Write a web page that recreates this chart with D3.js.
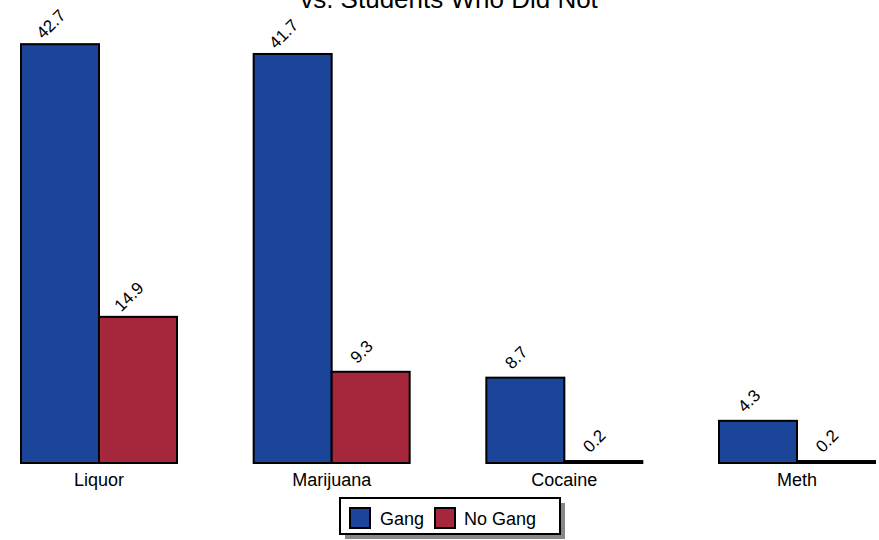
<!DOCTYPE html>
<html>
<head>
<meta charset="utf-8">
<script src="https://cdn.jsdelivr.net/npm/d3@7"></script>
<style>
  html, body { margin: 0; padding: 0; background: #fff; }
  svg { display: block; font-family: "Liberation Sans", Arial, sans-serif; }
</style>
</head>
<body>
<svg id="chart" width="879" height="540"></svg>
<script>
const categories = ["Liquor", "Marijuana", "Cocaine", "Meth"];
const seriesNames = ["Gang", "No Gang"];
const gangValues = [42.7, 41.7, 8.7, 4.3];
const noGangValues = [14.9, 9.3, 0.2, 0.2];
const seriesColors = ["#1A4599", "#A6273B"];
const titleLines = ["vs. Students Who Did Not"];

const svg = d3.select("#chart");

const x0 = d3.scaleBand().domain(categories).range([21, 875]).paddingInner(0.3295).paddingOuter(0);
const x1 = d3.scaleBand().domain(seriesNames).range([0, x0.bandwidth()]).padding(0);
const y = d3.scaleLinear().domain([0, 45]).range([463, 21.6]);
const color = d3.scaleOrdinal().domain(seriesNames).range(seriesColors);

const rows = categories.map((c, i) => ({ cat: c, vals: [
  { key: "Gang", value: gangValues[i] },
  { key: "No Gang", value: noGangValues[i] }
]}));

// Title (its first line lies above the visible area, as in the reference)
svg.append("text")
  .attr("x", 449).attr("y", 8)
  .attr("text-anchor", "middle")
  .attr("font-size", 26)
  .attr("fill", "#000")
  .text(titleLines[0]);

const groups = svg.selectAll("g.grp").data(rows).join("g")
  .attr("class", "grp")
  .attr("transform", d => `translate(${x0(d.cat)},0)`);

groups.selectAll("rect").data(d => d.vals).join("rect")
  .attr("x", d => x1(d.key))
  .attr("y", d => y(d.value))
  .attr("width", x1.bandwidth())
  .attr("height", d => y(0) - y(d.value))
  .attr("fill", d => color(d.key))
  .attr("stroke", "#000")
  .attr("stroke-width", 2);

groups.selectAll("text.val").data(d => d.vals).join("text")
  .attr("class", "val")
  .attr("transform", d => `translate(${x1(d.key) + x1.bandwidth() / 2 - 5},${y(d.value) - 16}) rotate(-45)`)
  .attr("text-anchor", "middle")
  .attr("font-size", 17)
  .attr("fill", "#000")
  .text(d => d3.format(".1f")(d.value));

// Category axis labels
const xAxis = d3.axisBottom(x0).tickSize(0).tickPadding(10);
const axisG = svg.append("g").attr("transform", `translate(0,${y(0)})`).call(xAxis);
axisG.select(".domain").remove();
axisG.selectAll("text").attr("font-size", 18).attr("fill", "#000")
  .attr("font-family", "Liberation Sans, Arial, sans-serif");

// Legend
const lg = svg.append("g").attr("transform", "translate(340,498)");
lg.append("rect").attr("x", 5).attr("y", 5).attr("width", 220).attr("height", 36).attr("fill", "#888");
lg.append("rect").attr("x", 0).attr("y", 0).attr("width", 220).attr("height", 36)
  .attr("fill", "#fff").attr("stroke", "#000").attr("stroke-width", 2);
const legendItems = [
  { key: "Gang", sx: 10, tx: 40 },
  { key: "No Gang", sx: 95, tx: 124 }
];
legendItems.forEach(it => {
  lg.append("rect").attr("x", it.sx).attr("y", 10).attr("width", 20).attr("height", 20)
    .attr("fill", color(it.key)).attr("stroke", "#000").attr("stroke-width", 2);
  lg.append("text").attr("x", it.tx).attr("y", 27).attr("font-size", 18).attr("fill", "#000").text(it.key);
});
</script>
</body>
</html>
